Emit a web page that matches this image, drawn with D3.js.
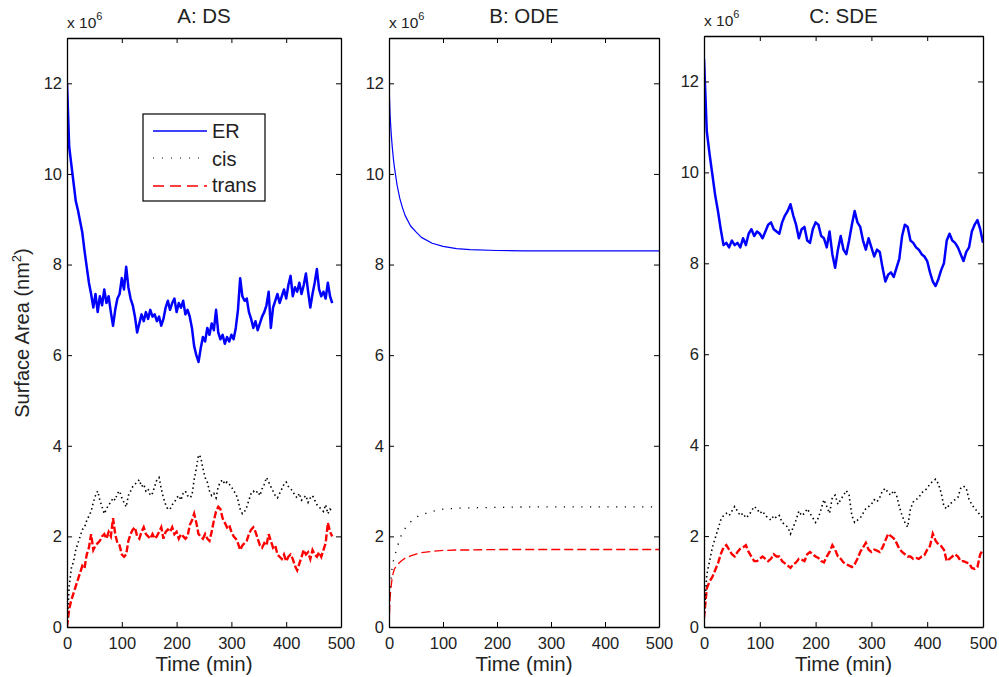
<!DOCTYPE html>
<html><head><meta charset="utf-8">
<script src="https://cdn.jsdelivr.net/npm/d3@7"></script>
<style>
html,body{margin:0;padding:0;background:#fff;}
svg text{font-family:"Liberation Sans",Arial,Helvetica,sans-serif;}
</style></head>
<body>
<svg id="chart" width="999" height="677"></svg>
<script>
// ---------- DATA ----------
const panelTitles = ["A: DS", "B: ODE", "C: SDE"];
const xTicks = [0, 100, 200, 300, 400, 500];
const yTicks = [0, 2, 4, 6, 8, 10, 12];
const legendLabels = ["ER", "cis", "trans"];

// Panel A (DS): sampled every 4 min, 0..484
const timeA = d3.range(0, 488, 4);
const erA = [12.0,10.6,10.2,9.8,9.4,9.2,8.95,8.7,8.3,7.95,7.6,7.35,7.05,7.35,6.95,7.3,7.1,7.45,7.15,7.3,
  6.95,6.65,7.0,7.25,7.35,7.7,7.45,7.95,7.5,7.25,7.1,6.85,6.5,6.7,6.9,6.75,6.95,6.8,7.0,6.85,
  6.9,6.75,6.85,6.65,6.8,7.05,7.2,7.0,7.15,7.25,6.95,7.15,7.05,7.2,6.9,7.0,6.85,6.6,6.2,6.0,
  5.85,6.15,6.4,6.3,6.6,6.45,6.7,6.55,7.0,6.5,6.35,6.45,6.25,6.4,6.3,6.45,6.35,6.6,7.0,7.7,
  7.3,7.2,7.25,6.95,6.8,6.6,6.75,6.55,6.7,6.85,6.95,7.1,7.4,6.6,7.05,7.2,7.35,7.15,7.3,7.45,
  7.25,7.55,7.75,7.3,7.5,7.4,7.6,7.35,7.55,7.8,7.4,7.05,7.35,7.6,7.9,7.45,7.3,7.4,7.25,7.6,
  7.3,7.15];
const cisA = [0.0,0.9,1.3,1.45,1.7,1.85,2.0,2.15,2.2,2.35,2.45,2.55,2.75,2.9,3.0,2.8,2.65,2.5,2.6,2.7,
  2.75,2.85,2.8,2.95,3.0,2.85,2.75,2.65,2.9,3.0,3.1,3.15,3.2,3.25,3.1,3.15,3.0,3.05,2.9,2.95,
  3.1,3.25,3.3,3.05,2.85,2.7,2.6,2.6,2.7,2.75,2.85,2.9,2.8,2.95,3.0,2.9,2.85,2.9,3.25,3.5,
  3.8,3.75,3.5,3.3,3.2,3.0,2.9,2.95,2.85,3.1,3.2,3.25,3.15,3.2,3.15,3.1,3.0,2.95,2.8,2.6,
  2.5,2.55,2.65,2.8,2.95,3.0,2.95,3.0,2.9,3.05,3.15,3.3,3.2,3.1,3.0,2.9,2.85,2.95,3.05,3.15,
  3.2,3.1,3.05,3.0,2.9,2.85,2.95,2.8,2.85,2.9,2.75,2.85,2.9,2.8,2.7,2.65,2.6,2.55,2.7,2.5,
  2.6,2.55];
const transA = [0.0,0.4,0.6,0.75,0.9,1.05,1.2,1.35,1.3,1.6,1.75,2.05,1.7,1.8,1.85,1.9,2.0,2.05,1.95,2.1,
  2.0,2.4,2.05,1.85,1.8,1.6,1.55,1.6,1.9,2.05,2.15,2.2,2.0,1.95,2.1,2.2,2.05,2.0,1.95,2.05,
  1.95,2.0,2.1,2.2,1.95,2.1,2.15,2.1,2.2,2.05,2.1,1.95,2.05,2.0,1.95,2.0,2.25,2.35,2.5,2.3,
  2.05,2.0,1.95,2.05,1.95,1.9,2.1,2.35,2.55,2.65,2.6,2.4,2.3,2.2,2.25,2.1,2.0,1.95,1.85,1.7,
  1.8,1.85,1.9,2.05,2.15,2.2,2.1,1.95,1.8,1.75,1.85,1.8,2.05,1.9,1.75,1.8,1.6,1.55,1.5,1.6,
  1.45,1.55,1.6,1.5,1.35,1.25,1.4,1.55,1.7,1.6,1.65,1.5,1.7,1.6,1.55,1.65,1.55,1.7,1.85,2.3,
  2.1,2.0];

// Panel B (ODE): smooth solution
const timeB = [0,2,4,6,8,10,15,20,25,30,40,50,60,80,100,125,150,200,250,300,400,500];
const erB = [12.0,11.3,10.9,10.6,10.35,10.15,9.75,9.46,9.25,9.08,8.85,8.72,8.6,8.47,8.4,8.35,8.33,8.31,8.3,8.3,8.3,8.3];
const cisB = [0.3,0.87,1.1,1.32,1.45,1.55,1.75,1.95,2.08,2.18,2.32,2.42,2.48,2.55,2.6,2.62,2.63,2.64,2.65,2.65,2.65,2.65];
const transB = [0.0,0.65,0.9,1.1,1.2,1.28,1.37,1.43,1.48,1.52,1.57,1.61,1.64,1.67,1.69,1.7,1.7,1.71,1.71,1.71,1.71,1.71];

// Panel C (SDE): sampled every 5 min, 0..500
const timeC = d3.range(0, 505, 5);
const erC = [12.5,10.9,10.4,9.95,9.5,9.15,8.75,8.4,8.45,8.35,8.5,8.4,8.45,8.35,8.55,8.4,8.65,8.75,8.6,8.7,
  8.65,8.55,8.7,8.85,8.9,8.75,8.7,8.65,8.9,9.05,9.15,9.3,9.05,8.85,8.55,8.75,8.8,8.5,8.45,8.75,
  8.9,8.85,8.6,8.55,8.35,8.7,8.2,7.9,8.3,8.6,8.3,8.2,8.5,8.85,9.15,8.9,8.8,8.5,8.3,8.55,
  8.35,8.15,8.3,8.25,7.9,7.6,7.75,7.8,7.7,7.9,8.1,8.6,8.85,8.8,8.5,8.45,8.35,8.3,8.2,8.15,
  8.05,7.8,7.6,7.5,7.65,7.85,8.0,8.5,8.65,8.5,8.45,8.35,8.2,8.05,8.25,8.35,8.7,8.85,8.95,8.75,
  8.45];
const cisC = [0.2,1.15,1.45,1.75,1.95,2.15,2.35,2.45,2.5,2.45,2.55,2.65,2.55,2.45,2.5,2.4,2.45,2.55,2.65,2.6,
  2.5,2.55,2.45,2.4,2.35,2.45,2.4,2.45,2.3,2.25,2.2,2.05,2.2,2.35,2.55,2.45,2.5,2.6,2.5,2.4,
  2.3,2.4,2.6,2.8,2.65,2.5,2.85,2.9,2.7,2.8,2.9,3.0,2.9,2.45,2.3,2.35,2.4,2.5,2.6,2.65,
  2.7,2.8,2.75,2.85,3.0,3.05,2.95,2.9,3.0,2.9,2.65,2.45,2.3,2.2,2.6,2.75,2.8,2.85,2.95,3.0,
  3.05,3.15,3.2,3.25,3.15,2.95,2.65,2.6,2.7,2.75,2.8,2.85,3.05,3.1,3.05,2.8,2.7,2.6,2.55,2.45,
  2.4];
const transC = [0.2,0.85,1.0,1.1,1.25,1.4,1.6,1.75,1.8,1.7,1.6,1.55,1.65,1.72,1.75,1.8,1.65,1.55,1.45,1.45,
  1.5,1.55,1.5,1.45,1.5,1.6,1.55,1.55,1.45,1.4,1.35,1.3,1.38,1.42,1.5,1.48,1.45,1.6,1.65,1.6,
  1.55,1.52,1.45,1.42,1.55,1.65,1.8,1.7,1.55,1.5,1.42,1.38,1.35,1.32,1.38,1.5,1.65,1.75,1.85,1.7,
  1.65,1.7,1.68,1.65,1.75,1.9,2.05,2.0,1.95,1.85,1.72,1.65,1.6,1.55,1.55,1.5,1.52,1.5,1.55,1.58,
  1.7,1.78,2.05,1.9,1.82,1.78,1.7,1.45,1.5,1.55,1.6,1.55,1.45,1.45,1.42,1.4,1.3,1.28,1.32,1.6,
  1.7];

// ---------- DRAWING ----------
const svg = d3.select("#chart");
const font = '"Liberation Sans",Arial,Helvetica,sans-serif';

const panels = [
  {title: panelTitles[0], x0: 67, x1: 341, y0: 627, y1: 38, t: timeA, er: erA, cis: cisA, trans: transA, noisy: true, legend: true},
  {title: panelTitles[1], x0: 389, x1: 659, y0: 627, y1: 38, t: timeB, er: erB, cis: cisB, trans: transB, noisy: false},
  {title: panelTitles[2], x0: 704, x1: 983, y0: 627, y1: 36, t: timeC, er: erC, cis: cisC, trans: transC, noisy: true}
];

panels.forEach((p, i) => {
  const x = d3.scaleLinear().domain([0, 500]).range([p.x0, p.x1]);
  const y = d3.scaleLinear().domain([0, 13]).range([p.y0, p.y1]);
  const g = svg.append("g");

  const clipId = "clip" + i;
  svg.append("clipPath").attr("id", clipId).append("rect")
    .attr("x", p.x0).attr("y", p.y1).attr("width", p.x1 - p.x0).attr("height", p.y0 - p.y1);

  const lines = g.append("g").attr("clip-path", `url(#${clipId})`);
  const mk = arr => d3.line().x((d, k) => x(p.t[k])).y(d => y(d))(arr);

  // trans (red dashed)
  lines.append("path").attr("d", mk(p.trans)).attr("fill", "none")
    .attr("stroke", "#ff0000").attr("stroke-width", p.noisy ? 2.4 : 1.3)
    .attr("stroke-dasharray", p.noisy ? "7,2.5" : "9,4");
  // cis (black dotted)
  lines.append("path").attr("d", mk(p.cis)).attr("fill", "none")
    .attr("stroke", "#000").attr("stroke-width", p.noisy ? 1.6 : 1.3)
    .attr("stroke-dasharray", p.noisy ? "1.5,3" : "1.2,7.5");
  // ER (blue solid)
  lines.append("path").attr("d", mk(p.er)).attr("fill", "none")
    .attr("stroke", "#0000ff").attr("stroke-width", p.noisy ? 2.5 : 1.2)
    .attr("stroke-linejoin", "round");

  // axes (MATLAB box with inward ticks)
  const axB = d3.axisBottom(x).tickValues(xTicks).tickSize(-5).tickSizeOuter(0).tickPadding(10).tickFormat(d3.format("d"));
  const axL = d3.axisLeft(y).tickValues(yTicks).tickSize(-5).tickSizeOuter(0).tickPadding(5).tickFormat(d3.format("d"));
  const axT = d3.axisTop(x).tickValues(xTicks).tickSize(-5).tickSizeOuter(0).tickFormat("");
  const axR = d3.axisRight(y).tickValues(yTicks).tickSize(-5).tickSizeOuter(0).tickFormat("");

  const styleAx = sel => {
    sel.selectAll("path.domain").attr("stroke", "#000").attr("stroke-width", 1.3);
    sel.selectAll(".tick line").attr("stroke", "#000").attr("stroke-width", 1);
    sel.selectAll("text").attr("fill", "#222").style("font-size", "16.5px").style("font-family", font);
  };
  g.append("g").attr("transform", `translate(0,${p.y0})`).call(axB).call(styleAx);
  g.append("g").attr("transform", `translate(${p.x0},0)`).call(axL).call(styleAx);
  g.append("g").attr("transform", `translate(0,${p.y1})`).call(axT).call(styleAx);
  g.append("g").attr("transform", `translate(${p.x1},0)`).call(axR).call(styleAx);

  // title
  g.append("text").attr("x", (p.x0 + p.x1) / 2).attr("y", 23).attr("text-anchor", "middle")
    .style("font-size", "20.5px").attr("fill", "#222").text(p.title);
  // exponent label
  const ex = g.append("text").attr("x", p.x0).attr("y", p.y1 - 10).attr("fill", "#222").style("font-size", "15.5px");
  ex.append("tspan").text("x 10");
  ex.append("tspan").attr("dy", -8).style("font-size", "11px").text("6");
  // x label
  g.append("text").attr("x", (p.x0 + p.x1) / 2).attr("y", 671).attr("text-anchor", "middle")
    .style("font-size", "20.5px").attr("fill", "#222").text("Time (min)");

  if (p.legend) {
    const lg = g.append("g");
    lg.append("rect").attr("x", 143).attr("y", 114).attr("width", 122).attr("height", 87)
      .attr("fill", "#fff").attr("stroke", "#000").attr("stroke-width", 1.2);
    const rows = [
      {lab: legendLabels[0], col: "#0000ff", dash: null, w: 1.5, ly: 131, ty: 138},
      {lab: legendLabels[1], col: "#000", dash: "1,8", w: 1.2, ly: 158, ty: 166},
      {lab: legendLabels[2], col: "#ff0000", dash: "11,6", w: 1.3, ly: 186, ty: 192}
    ];
    rows.forEach(r => {
      lg.append("line").attr("x1", 153).attr("x2", 207).attr("y1", r.ly).attr("y2", r.ly)
        .attr("stroke", r.col).attr("stroke-width", r.w).attr("stroke-dasharray", r.dash);
      lg.append("text").attr("x", 212).attr("y", r.ty).style("font-size", "20px").attr("fill", "#222").text(r.lab);
    });
  }
});

// y axis label
const yl = svg.append("text").attr("transform", "translate(29,333) rotate(-90)").attr("text-anchor", "middle")
  .style("font-size", "20px").attr("fill", "#222");
yl.append("tspan").text("Surface Area (nm");
yl.append("tspan").attr("dy", -8).style("font-size", "13px").text("2");
yl.append("tspan").attr("dy", 8).text(")");
</script>
</body></html>
